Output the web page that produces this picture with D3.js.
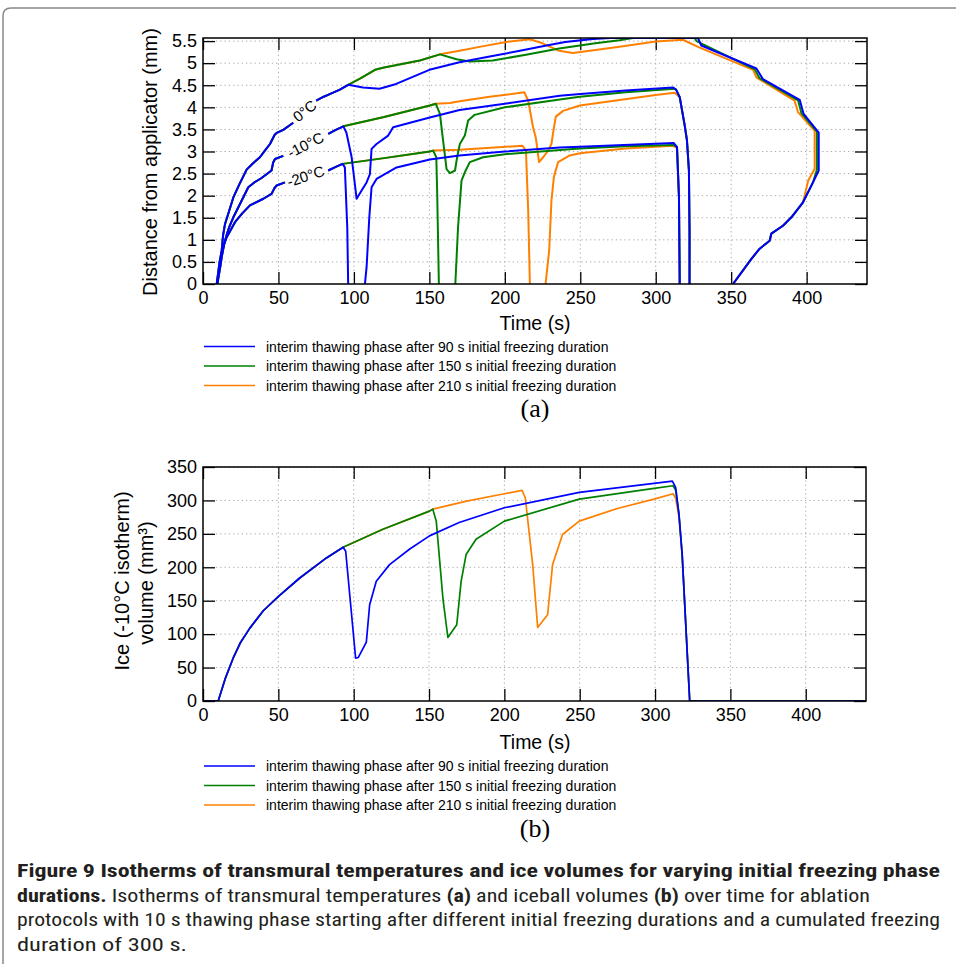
<!DOCTYPE html>
<html>
<head>
<meta charset="utf-8" />
<title>Figure 9</title>
<script src="https://cdn.jsdelivr.net/npm/d3@7"></script>
<style>
  body { margin: 0; background: #fff; }
  text { font-family: "Liberation Sans", Arial, Helvetica, sans-serif; }
</style>
</head>
<body>
<script>

// ---- tick values ----
var timeTicks = [0, 50, 100, 150, 200, 250, 300, 350, 400];
var distTicks = [0, 0.5, 1, 1.5, 2, 2.5, 3, 3.5, 4, 4.5, 5, 5.5];
var volTicks = [0, 50, 100, 150, 200, 250, 300, 350];

var seriesNames = [
    "interim thawing phase after 90 s initial freezing duration",
    "interim thawing phase after 150 s initial freezing duration",
    "interim thawing phase after 210 s initial freezing duration"
];

// ---- (a) isotherm depth [time s, depth mm], null = gap ----
// shared initial freezing part
var start0 = [[9.1,0],[11,0.5],[12.4,0.76],[13.3,1.1],[14.6,1.36],[17,1.62],[20.1,1.96],[24,2.25],[28.9,2.59],[33,2.73],[37.7,2.87],[41,3.02],[44.4,3.17],[47.5,3.38],[48.8,3.42],[53.2,3.49],[59.8,3.65],[67,null],[75,4.15],[80,4.24],[84,4.3],[90.7,4.4],[96.2,4.51]];
var start10 = [[9.3,0],[11.5,0.5],[12.4,0.7],[14.6,0.98],[16,1.15],[17.5,1.3],[20.1,1.51],[24.5,1.81],[30,2.19],[34,2.3],[38.8,2.4],[45.4,2.57],[46.5,2.75],[47.7,2.83],[53.2,2.9],[68,null],[83,3.4],[88,3.49],[93,3.57]];
var start20 = [[9.5,0],[11.5,0.4],[12.4,0.61],[14,0.9],[15.7,1.06],[18,1.2],[21.2,1.4],[26,1.6],[31.1,1.78],[40,1.93],[45.4,2.04],[47.5,2.18],[48.8,2.23],[54.3,2.3],[68,null],[83,2.57],[88,2.65],[92.5,2.72]];
// shared end of freezing
var end0Inner = [[397.6,1.85],[389.9,1.51],[384.3,1.32],[376.6,1.14],[375.5,0.98],[368.9,0.8],[363.4,0.57],[351.2,0]];
var drop10 = [[315.9,4.23],[319.2,3.59],[320.7,3.25],[322,2.57],[322.4,1.2],[322.4,0]];
var drop20 = [[315.4,1.97],[315.9,0]];

var blue0 = start0.concat([[106,4.45],[117,4.42],[128,4.53],[150,4.85],[170,5.02],[190,5.15],[210,5.28],[227.6,5.4],[240,5.48],[258.5,5.55],[270,5.57],[313,5.57],[328,5.57],[330.2,5.4],[366.7,4.88],[371,4.64],[395.4,4.17],[398,3.85],[408,3.43],[408,2.57],[404.2,2.3]], end0Inner);
var blue10 = start10.concat([[95,3.43],[98.5,2.87],[101.8,1.93],[105,2.11],[108.4,2.3],[110.6,2.49],[111.7,3.06],[115,3.17],[122.7,3.36],[126,3.55],[150.3,3.77],[170,3.94],[200,4.08],[236.4,4.26],[250,4.3],[280,4.38],[311.5,4.45],[313.5,4.4]], drop10);
var blue20 = start20.concat([[94,2.64],[95.6,1.28],[96.2,0],[100,null],[107.3,0],[108.4,0.38],[110.2,1.51],[111.7,2.19],[115,2.38],[128.3,2.64],[150.3,2.82],[170,2.91],[200,3.0],[236.4,3.09],[250,3.11],[312,3.19],[314.1,3.1]], drop20);

var green0 = start0.concat([[104,4.65],[114,4.85],[120,4.9],[143.7,5.06],[157,5.2],[168,5.09],[176.8,5.04],[192,5.06],[214,5.19],[236,5.33],[260,5.45],[276,5.52],[285,5.57],[313,5.57],[325.8,5.57],[327,5.5],[365.6,4.86],[368.8,4.66],[394.3,4.16],[396.5,3.87],[406.8,3.45],[406.8,2.59],[404.2,2.3]], end0Inner);
var green10 = start10.concat([[120,3.78],[150.3,4.04],[154.3,4.08],[157,3.85],[158.7,3.36],[161.4,2.6],[163.6,2.51],[167,2.57],[168.4,2.87],[170.2,3.17],[173.5,3.36],[175.7,3.7],[180,3.83],[200,4.0],[236.4,4.18],[249.7,4.24],[280,4.34],[312.6,4.42],[313.5,4.4]], drop10);
var green20 = start20.concat([[120,2.85],[150.3,3.0],[152.5,3.02],[154.6,2.87],[155.2,2.04],[156.3,0],[160,null],[167.2,0],[169,1.28],[171.3,2.34],[173.5,2.53],[176.8,2.76],[185.6,2.87],[200,2.94],[249.7,3.07],[280,3.12],[312,3.15],[314.1,3.1]], drop20);

var orange0 = start0.concat([[104,4.65],[114,4.85],[120,4.9],[143.7,5.06],[157,5.2],[170,5.28],[185,5.38],[201,5.48],[216.6,5.54],[225,5.45],[236,5.28],[245,5.23],[260,5.3],[276,5.37],[300,5.49],[318,5.53],[328,5.37],[364.5,4.85],[366.7,4.68],[392,4.15],[394.3,3.89],[405.3,3.47],[405.3,2.61],[401,2.34]], end0Inner);
var orange10 = start10.concat([[120,3.78],[150.3,4.04],[154.3,4.08],[163.6,4.1],[170,4.14],[190,4.24],[213,4.34],[215.5,4.15],[218.7,3.55],[220.5,3.32],[222.7,2.76],[225.4,2.87],[228.7,3.02],[230.9,3.17],[232,3.43],[233.8,3.79],[238.6,3.92],[249.7,4.04],[300,4.28],[312.6,4.33],[313.5,4.3]], drop10);
var orange20 = start20.concat([[120,2.85],[150.3,3.0],[152.5,3.02],[170,3.04],[211.7,3.13],[214,3.02],[215.5,1.66],[216.6,0],[220,null],[227,0],[229.4,0.76],[230.9,1.89],[232.5,2.42],[235.3,2.76],[243,2.91],[249.7,2.96],[280,3.07],[311.5,3.13],[314.1,3.08]], drop20);

var isoLabels = [
    { text: "0°C", t: 67.4, d: 3.92, angle: -38 },
    { text: "-10°C", t: 68, d: 3.15, angle: -27 },
    { text: "-20°C", t: 68, d: 2.44, angle: -18 }
];

// ---- (b) ice volume [time s, volume mm3] ----
var volFreeze = [[0,0],[10.1,0],[15,35],[20,64],[25,88],[31.1,109],[40,135],[50.3,157],[64.2,184],[81.9,214],[93,230]];
var volEnd = [[318,219],[323,0],[440,0]];
var blueVol = volFreeze.concat([[94.7,224],[101.3,64],[103,65],[108.4,88],[110.6,144],[115,179],[123.8,204],[137,227],[150.3,247],[170,267],[200,289],[249.7,312],[299.3,325.5],[311.5,329],[313.7,319],[315.9,279]], volEnd);
var greenVol = volFreeze.concat([[119.4,257],[150.3,284],[152.5,287],[154.8,269],[159.2,154],[162.5,95],[168.4,114],[171.3,179],[174.6,219],[181.2,242],[200,269],[249.7,302],[299.3,318],[312,322],[313.7,315],[315.9,279]], volEnd);
var orangeVol = volFreeze.concat([[119.4,257],[150.3,284],[152.5,287],[175,299],[200,310],[211.7,315],[213.9,304],[218.8,204],[222.1,110],[228.7,129],[232,204],[238.6,249],[249.7,269],[275,288],[299.3,302],[312,310],[313.7,303],[315.9,275]], volEnd);

var colors = ["#0000ff", "#008000", "#ff8000"];

// ---- layout ----
var w = 956, h = 964;
var svg = d3.select("body").append("svg").attr("width", w).attr("height", h);

// page border
svg.append("path")
    .attr("d", "M3," + h + " V16 Q3,8 11,8 H" + w)
    .attr("fill", "none").attr("stroke", "#888").attr("stroke-width", 1.5);

function drawFrame(g, x, y, yTicks, idClip) {
    var x0 = x.range()[0], x1 = x.range()[1], y0 = y.range()[0], y1 = y.range()[1];

    // dotted grid
    g.append("g").selectAll("line").data(timeTicks.filter(function (d) { return d > 0; }))
        .enter().append("line")
        .attr("x1", function (d) { return x(d); }).attr("x2", function (d) { return x(d); })
        .attr("y1", y0).attr("y2", y1)
        .attr("stroke", "#aaa").attr("stroke-dasharray", "1.3,3");
    g.append("g").selectAll("line").data(yTicks.filter(function (d) { return d > 0; }))
        .enter().append("line")
        .attr("x1", x0).attr("x2", x1)
        .attr("y1", function (d) { return y(d); }).attr("y2", function (d) { return y(d); })
        .attr("stroke", "#aaa").attr("stroke-dasharray", "1.3,3");

    var fmt = function (d) { return String(d); };
    var blank = function () { return ""; };

    var axB = g.append("g").attr("transform", "translate(0," + y0 + ")")
        .call(d3.axisBottom(x).tickValues(timeTicks).tickSize(-12).tickPadding(7).tickFormat(fmt));
    var axT = g.append("g").attr("transform", "translate(0," + y1 + ")")
        .call(d3.axisTop(x).tickValues(timeTicks).tickSize(-12).tickFormat(blank));
    var axL = g.append("g").attr("transform", "translate(" + x0 + ",0)")
        .call(d3.axisLeft(y).tickValues(yTicks).tickSize(-12).tickPadding(6).tickFormat(fmt));
    var axR = g.append("g").attr("transform", "translate(" + x1 + ",0)")
        .call(d3.axisRight(y).tickValues(yTicks).tickSize(-12).tickFormat(blank));

    [axB, axT, axL, axR].forEach(function (a) {
        a.select(".domain").remove();
        a.selectAll(".tick line").attr("stroke", "#000").attr("stroke-width", 1.3);
        a.selectAll("text").attr("font-size", 18).attr("fill", "#000")
            .style("font-family", "'Liberation Sans', Arial, sans-serif");
    });

    g.append("clipPath").attr("id", idClip).append("rect")
        .attr("x", x0).attr("y", y1).attr("width", x1 - x0).attr("height", y0 - y1);
}

function drawBox(g, x, y) {
    var x0 = x.range()[0], x1 = x.range()[1], y0 = y.range()[0], y1 = y.range()[1];
    g.append("rect").attr("x", x0).attr("y", y1).attr("width", x1 - x0).attr("height", y0 - y1)
        .attr("fill", "none").attr("stroke", "#000").attr("stroke-width", 1.5);
}

function drawLegend(g, top) {
    seriesNames.forEach(function (name, i) {
        var yy = top + i * 19.5;
        g.append("line").attr("x1", 204).attr("x2", 255).attr("y1", yy).attr("y2", yy)
            .attr("stroke", colors[i]).attr("stroke-width", 1.5);
        g.append("text").attr("x", 266).attr("y", yy + 5).attr("font-size", 14)
            .attr("fill", "#000").text(name);
    });
}

// ================= (a) =================
var xA = d3.scaleLinear().domain([0, 440]).range([203, 867]);
var yA = d3.scaleLinear().domain([0, 5.57]).range([284, 38]);
var gA = svg.append("g");
drawFrame(gA, xA, yA, distTicks, "clipA");

var lineA = d3.line()
    .defined(function (d) { return d[1] !== null; })
    .x(function (d) { return xA(d[0]); })
    .y(function (d) { return yA(d[1]); });

var distSeries = [[blue0, blue10, blue20], [green0, green10, green20], [orange0, orange10, orange20]];
var plotA = gA.append("g").attr("clip-path", "url(#clipA)");
[2, 1, 0].forEach(function (i) {
    plotA.selectAll(null).data(distSeries[i]).enter().append("path")
        .attr("d", lineA)
        .attr("fill", "none").attr("stroke", colors[i])
        .attr("stroke-width", 2).attr("stroke-linejoin", "round");
});

gA.selectAll(".isolabel").data(isoLabels).enter().append("text")
    .attr("class", "isolabel")
    .attr("transform", function (d) { return "translate(" + xA(d.t) + "," + yA(d.d) + ") rotate(" + d.angle + ")"; })
    .attr("text-anchor", "middle").attr("dy", "0.35em")
    .attr("font-size", 15).attr("fill", "#000")
    .text(function (d) { return d.text; });

drawBox(gA, xA, yA);

gA.append("text").attr("transform", "translate(157,162) rotate(-90)")
    .attr("text-anchor", "middle").attr("font-size", 20).text("Distance from applicator (mm)");
gA.append("text").attr("x", 535).attr("y", 330)
    .attr("text-anchor", "middle").attr("font-size", 19.5).text("Time (s)");
drawLegend(gA, 346.5);
gA.append("text").attr("x", 535).attr("y", 417)
    .attr("text-anchor", "middle").attr("font-size", 26)
    .style("font-family", "'Liberation Serif', 'Times New Roman', serif").text("(a)");

// ================= (b) =================
var xB = d3.scaleLinear().domain([0, 440]).range([203, 866]);
var yB = d3.scaleLinear().domain([0, 350]).range([701, 467]);
var gB = svg.append("g");
drawFrame(gB, xB, yB, volTicks, "clipB");

var lineB = d3.line()
    .x(function (d) { return xB(d[0]); })
    .y(function (d) { return yB(d[1]); });

var volSeries = [blueVol, greenVol, orangeVol];
var plotB = gB.append("g").attr("clip-path", "url(#clipB)");
[2, 1, 0].forEach(function (i) {
    plotB.append("path").datum(volSeries[i])
        .attr("d", lineB)
        .attr("fill", "none").attr("stroke", colors[i])
        .attr("stroke-width", 1.7).attr("stroke-linejoin", "round");
});

drawBox(gB, xB, yB);

gB.append("text").attr("transform", "translate(129,581) rotate(-90)")
    .attr("text-anchor", "middle").attr("font-size", 20).text("Ice (-10°C isotherm)");
gB.append("text").attr("transform", "translate(153,583) rotate(-90)")
    .attr("text-anchor", "middle").attr("font-size", 20).text("volume (mm³)");
gB.append("text").attr("x", 535).attr("y", 749)
    .attr("text-anchor", "middle").attr("font-size", 19.5).text("Time (s)");
drawLegend(gB, 766);
gB.append("text").attr("x", 535).attr("y", 837)
    .attr("text-anchor", "middle").attr("font-size", 26)
    .style("font-family", "'Liberation Serif', 'Times New Roman', serif").text("(b)");

// ================= caption =================
var capFont = "'Liberation Sans Narrow', 'Roboto Condensed', Roboto, 'Liberation Sans', sans-serif";
var caption = [
    { y: 877, len: 923, parts: [["Figure 9 Isotherms of transmural temperatures and ice volumes for varying initial freezing phase", true]] },
    { y: 902, len: 853, parts: [["durations.", true], [" Isotherms of transmural temperatures ", false], ["(a)", true], [" and iceball volumes ", false], ["(b)", true], [" over time for ablation", false]] },
    { y: 926, len: 923, parts: [["protocols with 10 s thawing phase starting after different initial freezing durations and a cumulated freezing", false]] },
    { y: 951, len: 170, parts: [["duration of 300 s.", false]] }
];
caption.forEach(function (c) {
    var t = svg.append("text").attr("x", 17).attr("y", c.y).attr("font-size", 18.5)
        .attr("fill", "#231f20").style("font-family", capFont)
        .attr("textLength", c.len).attr("lengthAdjust", "spacingAndGlyphs")
        .attr("xml:space", "preserve");
    c.parts.forEach(function (p) {
        t.append("tspan").attr("font-weight", p[1] ? "bold" : "normal").text(p[0]);
    });
});

</script>
</body>
</html>
